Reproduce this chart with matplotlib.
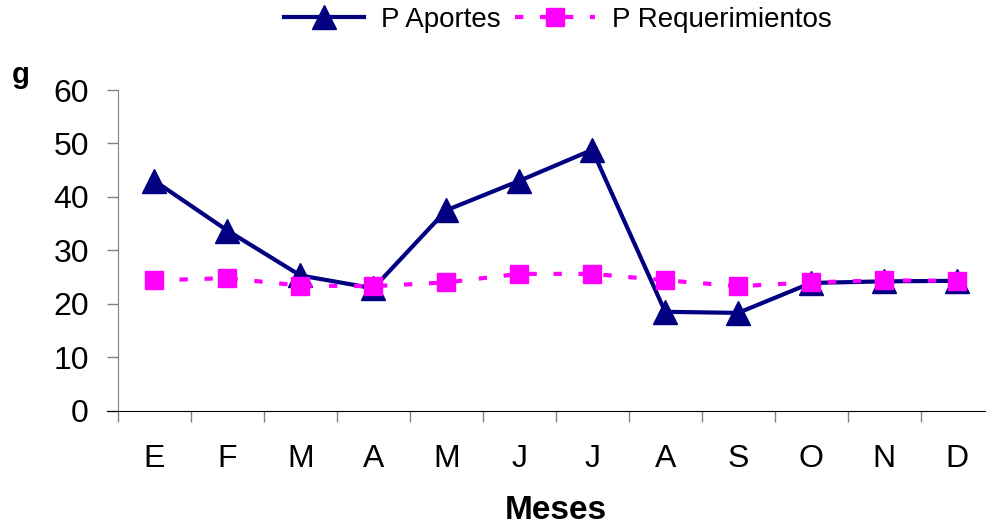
import numpy as np
import matplotlib
matplotlib.use('Agg')
import matplotlib.pyplot as plt
from matplotlib.ticker import FixedLocator

# Datos mensuales de fósforo (g)
meses = ['E', 'F', 'M', 'A', 'M', 'J', 'J', 'A', 'S', 'O', 'N', 'D']
p_aportes = [43.0, 33.7, 25.3, 22.9, 37.5, 43.0, 48.8, 18.5, 18.3, 23.9, 24.2, 24.3]
p_requerimientos = [24.4, 24.8, 23.4, 23.3, 24.0, 25.6, 25.6, 24.4, 23.3, 24.0, 24.4, 24.3]

plt.rcParams['font.family'] = ['Liberation Sans', 'DejaVu Sans']

fig = plt.figure(figsize=(9.87, 5.28), dpi=100)
ax = fig.add_axes([118 / 987, 117.3 / 528, 875.5 / 987, 320.7 / 528])

x = np.arange(len(meses))
ax.plot(x, p_aportes, color='#000080', lw=3, marker='^', ms=17,
        markerfacecolor='#000080', markeredgecolor='#000080',
        label='P Aportes', zorder=3)
ax.plot(x, p_requerimientos, color='#FF00FF', lw=3, dashes=(2, 4),
        marker='s', ms=13, markerfacecolor='#FF00FF', markeredgecolor='#FF00FF',
        label='P Requerimientos', zorder=4)

ax.set_xlim(-0.5, len(meses) - 0.5)
ax.set_ylim(0, 60)
ax.set_yticks(range(0, 61, 10))

# etiquetas centradas, marcas en los límites entre meses
ax.set_xticks(x)
ax.set_xticklabels(meses)
ax.xaxis.set_minor_locator(FixedLocator(np.arange(-0.5, len(meses), 1.0)))
ax.tick_params(axis='x', which='major', length=0, pad=24, labelsize=23)
ax.tick_params(axis='x', which='minor', length=8, width=1, color='#808080', direction='out')
ax.tick_params(axis='y', length=8, width=1, color='#808080', direction='out',
               pad=13, labelsize=23)

for s in ['top', 'right']:
    ax.spines[s].set_visible(False)
ax.spines['left'].set_color('#808080')
ax.spines['bottom'].set_color('black')
ax.spines['bottom'].set_bounds(-0.65, len(meses) - 0.5)

ax.set_xlabel('Meses', fontsize=24, fontweight='bold', labelpad=15)
fig.text(0.012, 0.842, 'g', fontsize=21, fontweight='bold')

fig.legend(loc='upper center', bbox_to_anchor=(0.565, 1.034), ncol=2,
           frameon=False, fontsize=20, handlelength=2.9, columnspacing=0.5,
           handletextpad=0.6)

fig.savefig('out.png', dpi=100)
